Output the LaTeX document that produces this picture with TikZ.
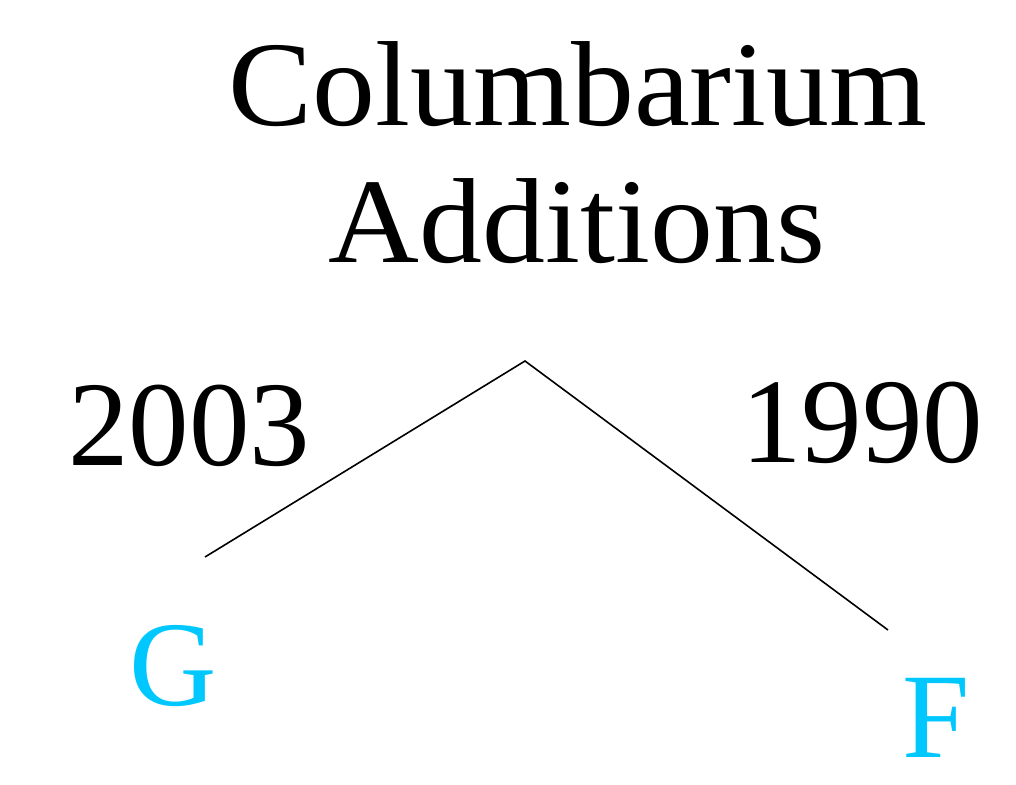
\documentclass[tikz,border=0pt]{standalone}
\usepackage{fontspec}
\setmainfont{Liberation Serif}
\definecolor{cyanlbl}{RGB}{0,200,255}
\begin{document}
\begin{tikzpicture}[x=1pt,y=-1pt,
  big/.style={font=\fontsize{121}{121}\selectfont, inner sep=0pt, anchor=base},
  leaf/.style={big, text=cyanlbl}]
\useasboundingbox[fill=white] (0,0) rectangle (1016,784);
\node[big, xscale=1.04] (t1) at (578,125) {Columbarium};
\node[big, xscale=1.04] (t2) at (577,262) {Additions};
\node[big] (y1) at (189,465) {2003};
\node[big] (y2) at (862,462) {1990};
\node[leaf] (g) at (173,705) {G};
\node[leaf] (f) at (936,757) {F};
\coordinate (top) at (525,361);
\coordinate (l) at (205,557);
\coordinate (r) at (888,630);
\draw[line width=1.6pt] (l) -- (top) -- (r);
\end{tikzpicture}
\end{document}
